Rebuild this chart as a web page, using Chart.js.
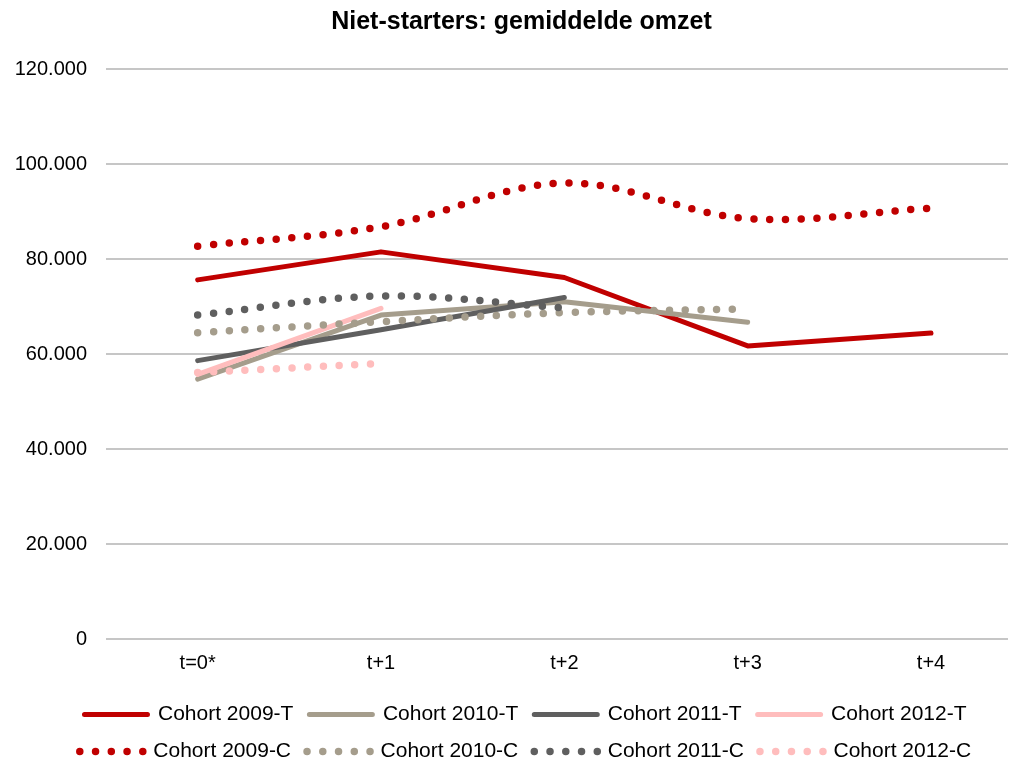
<!DOCTYPE html>
<html>
<head>
<meta charset="utf-8">
<script src="https://cdn.jsdelivr.net/npm/chart.js@4/dist/chart.umd.min.js"></script>
<style>
    html, body { margin: 0; padding: 0; background: #fff; }
    #wrap { width: 1011px; height: 764px; }
</style>
</head>
<body>
<div id="wrap"><canvas id="omzetChart" width="1011" height="764"></canvas></div>
<script>
// Categories (x-axis)
const periods = ['t=0*', 't+1', 't+2', 't+3', 't+4'];

// Gemiddelde omzet per cohort, T = solid, C = dotted
const cohort2009T = [75600, 81500, 76100, 61700, 64400];
const cohort2010T = [54700, 68200, 71000, 66700, null];
const cohort2011T = [58600, 65100, 71900, null, null];
const cohort2012T = [55700, 69600, null, null, null];
const cohort2009C = [82700, 86800, 96000, 88500, 90700];
const cohort2010C = [64500, 66800, 68700, 69500, null];
const cohort2011C = [68200, 72200, 69700, null, null];
const cohort2012C = [56100, 58000, null, null, null];

const seriesNames = [
    'Cohort 2009-T', 'Cohort 2010-T', 'Cohort 2011-T', 'Cohort 2012-T',
    'Cohort 2009-C', 'Cohort 2010-C', 'Cohort 2011-C', 'Cohort 2012-C',
];
const seriesValues = [
    cohort2009T, cohort2010T, cohort2011T, cohort2012T,
    cohort2009C, cohort2010C, cohort2011C, cohort2012C,
];

const cohortColors = ['#C00000', '#A59D8C', '#5F5F5F', '#FFBDBD'];
const fontFamily = '"Liberation Sans", Arial, sans-serif';

function formatThousands(value) {
    return String(value).replace(/\B(?=(\d{3})+(?!\d))/g, '.');
}

const datasets = seriesValues.map((values, i) => {
    const dotted = i >= 4;
    const color = cohortColors[i % 4];
    return {
        label: seriesNames[i],
        data: values.map((v, idx) => ({ x: idx, y: v })),
        borderColor: color,
        backgroundColor: color,
        borderWidth: dotted ? 7.5 : 5,
        borderDash: dotted ? [0, 15.75] : [],
        borderCapStyle: 'round',
        borderJoinStyle: 'round',
        tension: dotted ? 0.35 : 0,
        pointRadius: 0,
        pointHoverRadius: 0,
        fill: false,
        order: -i, // later series drawn on top, as in the original
    };
});

// title and legend sit a bit right of the canvas centre in the original
const boxNudge = {
    id: 'boxNudge',
    afterLayout(chart) {
        chart.legend.left += 14;
        chart.legend.right += 14;
        chart.titleBlock.left += 10;
        chart.titleBlock.right += 10;
    },
};

new Chart(document.getElementById('omzetChart').getContext('2d'), {
    type: 'line',
    data: { datasets: datasets },
    plugins: [boxNudge],
    options: {
        responsive: false,
        animation: false,
        devicePixelRatio: 1,
        layout: { padding: { left: 15, right: 3, top: 0, bottom: -8 } },
        plugins: {
            title: {
                display: true,
                text: 'Niet-starters: gemiddelde omzet',
                color: '#000',
                font: { family: fontFamily, size: 25, weight: 'bold' },
                padding: { top: 7, bottom: 32 },
            },
            legend: {
                position: 'bottom',
                labels: {
                    boxWidth: 63,
                    boxHeight: 0,
                    padding: 16,
                    color: '#000',
                    font: { family: fontFamily, size: 21 },
                    sort: (a, b) => a.datasetIndex - b.datasetIndex,
                },
            },
            tooltip: { enabled: false },
        },
        scales: {
            x: {
                type: 'linear',
                min: -0.5,
                max: 4.42,
                afterBuildTicks: (scale) => {
                    scale.ticks = periods.map((p, i) => ({ value: i }));
                },
                grid: { display: false, drawTicks: false },
                border: { display: false },
                ticks: {
                    color: '#000',
                    padding: 12.5,
                    font: { family: fontFamily, size: 20 },
                    callback: (value) => periods[value],
                },
            },
            y: {
                min: 0,
                max: 120000,
                afterFit: (scale) => { scale.width = 91; },
                grid: { color: '#C6C6C6', lineWidth: 2, drawTicks: false },
                border: { display: false },
                ticks: {
                    stepSize: 20000,
                    color: '#000',
                    padding: 19,
                    font: { family: fontFamily, size: 20 },
                    callback: (value) => formatThousands(value),
                },
            },
        },
    },
});
</script>
</body>
</html>
